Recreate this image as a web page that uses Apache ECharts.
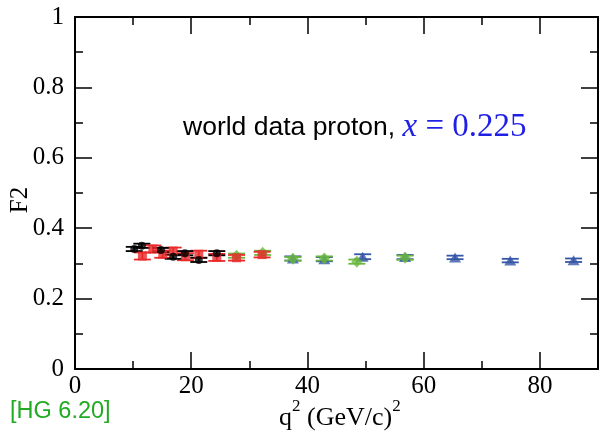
<!DOCTYPE html>
<html><head><meta charset="utf-8">
<script src="https://cdn.jsdelivr.net/npm/echarts@6/dist/echarts.min.js"></script>
<style>html,body{margin:0;padding:0;background:#fff}#c{width:601px;height:435px}</style>
</head><body><div id="c"></div>
<script>
// ---- data ----
const xTicks = [0, 20, 40, 60, 80];
const yTicks = [0, 0.2, 0.4, 0.6, 0.8, 1];

const blackQ2 = [10.2, 11.5, 14.8, 16.9, 18.9, 21.3, 24.4];
const blackF2 = [0.341, 0.350, 0.338, 0.319, 0.329, 0.310, 0.329];
const blackErr = [0.006, 0.006, 0.006, 0.006, 0.006, 0.006, 0.006];

const redQ2 = [11.6, 13.4, 15.1, 16.9, 19.0, 21.3, 24.4, 27.8, 32.2];
const redF2 = [0.321, 0.341, 0.326, 0.335, 0.319, 0.326, 0.317, 0.316, 0.325];
const redErr = [0.010, 0.010, 0.010, 0.010, 0.010, 0.010, 0.010, 0.008, 0.008];

const greenQ2 = [27.8, 32.3, 37.5, 42.9, 48.5, 56.8];
const greenF2 = [0.322, 0.330, 0.313, 0.314, 0.305, 0.316];
const greenErr = [0.006, 0.006, 0.005, 0.006, 0.006, 0.006];

const blueQ2 = [37.5, 42.9, 49.5, 56.8, 65.4, 74.9, 85.8];
const blueF2 = [0.314, 0.312, 0.319, 0.318, 0.317, 0.308, 0.309];
const blueErr = [0.006, 0.006, 0.007, 0.006, 0.005, 0.005, 0.005];

const colors = {black: '#000000', red: '#ea2a2a', green: '#6ab93e', blue: '#3656a6'};

function pts(q, f) { return q.map((v, i) => [v, f[i]]); }
function errPts(q, f, e) { return q.map((v, i) => [v, f[i], e[i]]); }

function errSeries(q, f, e, color) {
  return {
    type: 'custom', z: 2,
    data: errPts(q, f, e),
    renderItem: function (params, api) {
      const x = api.value(0), y = api.value(1), er = api.value(2);
      const lo = api.coord([x, y - er]);
      const hi = api.coord([x, y + er]);
      const hw = 8.5;
      const st = {stroke: color, lineWidth: 1.8};
      return {type: 'group', children: [
        {type: 'line', shape: {x1: lo[0], y1: lo[1], x2: hi[0], y2: hi[1]}, style: st},
        {type: 'line', shape: {x1: lo[0] - hw, y1: lo[1], x2: lo[0] + hw, y2: lo[1]}, style: st},
        {type: 'line', shape: {x1: hi[0] - hw, y1: hi[1], x2: hi[0] + hw, y2: hi[1]}, style: st}
      ]};
    }
  };
}
function markSeries(q, f, color, symbol, size) {
  return {type: 'scatter', z: 3, data: pts(q, f), symbol: symbol, symbolSize: size,
    itemStyle: {color: color}, silent: true};
}

const axisFont = {fontFamily: 'Liberation Serif', fontSize: 25, color: '#000'};
const chart = echarts.init(document.getElementById('c'), null, {renderer: 'canvas'});
const baseX = {
  type: 'value', min: 0, max: 90, interval: 20,
  axisLine: {show: true, onZero: false, lineStyle: {color: '#000', width: 2}},
  axisTick: {show: true, inside: true, length: 17, lineStyle: {color: '#000', width: 1.5}},
  minorTick: {show: true, splitNumber: 2, length: 8, lineStyle: {color: '#000', width: 1.5}},
  splitLine: {show: false}
};
const baseY = {
  type: 'value', min: 0, max: 1, interval: 0.2,
  axisLine: {show: true, onZero: false, lineStyle: {color: '#000', width: 2}},
  axisTick: {show: true, inside: true, length: 17, lineStyle: {color: '#000', width: 1.5}},
  minorTick: {show: true, splitNumber: 2, length: 8, lineStyle: {color: '#000', width: 1.5}},
  splitLine: {show: false}
};
chart.setOption({
  animation: false,
  grid: {left: 75, right: -1, top: 17, bottom: 66},
  xAxis: [
    Object.assign({}, baseX, {position: 'bottom',
      axisLabel: Object.assign({margin: 5, formatter: v => xTicks.includes(v) ? String(v) : ''}, axisFont)}),
    Object.assign({}, baseX, {position: 'top', axisLabel: {show: false}})
  ],
  yAxis: [
    Object.assign({}, baseY, {position: 'left',
      axisLabel: Object.assign({margin: 11, formatter: v => {
        const t = yTicks.find(t => Math.abs(t - v) < 1e-9);
        return t === undefined ? '' : (t === 0 || t === 1 ? String(t) : t.toFixed(1));
      }}, axisFont)}),
    Object.assign({}, baseY, {position: 'right', axisLabel: {show: false}})
  ],
  series: [
    errSeries(blueQ2, blueF2, blueErr, colors.blue),
    markSeries(blueQ2, blueF2, colors.blue, 'triangle', [12, 10]),
    errSeries(greenQ2, greenF2, greenErr, colors.green),
    markSeries(greenQ2, greenF2, colors.green, 'diamond', [11, 12]),
    errSeries(redQ2, redF2, redErr, colors.red),
    markSeries(redQ2, redF2, colors.red, 'rect', 9),
    errSeries(blackQ2, blackF2, blackErr, colors.black),
    markSeries(blackQ2, blackF2, colors.black, 'circle', 8)
  ],
  graphic: [
    {type: 'text', left: 183, top: 111, style: {
      rich: {
        a: {fontFamily: 'Liberation Sans', fontSize: 26.5, fill: '#000', verticalAlign: 'middle'},
        b: {fontFamily: 'Liberation Serif', fontSize: 33, fontStyle: 'italic', fill: '#1f1fe6', verticalAlign: 'middle'},
        c: {fontFamily: 'Liberation Serif', fontSize: 33, fill: '#1f1fe6', verticalAlign: 'middle'}
      },
      text: '{a|world data proton, }{b|x}{c| = 0.225}'
    }},
    {type: 'text', x: 20, y: 200, rotation: Math.PI / 2, style: {
      text: 'F2', fontFamily: 'Liberation Serif', fontSize: 25, fill: '#000',
      align: 'center', verticalAlign: 'middle'}},
    {type: 'text', left: 279, top: 398, style: {
      rich: {
        a: {fontFamily: 'Liberation Serif', fontSize: 26, fill: '#000', verticalAlign: 'bottom'},
        s: {fontFamily: 'Liberation Serif', fontSize: 17, fill: '#000', verticalAlign: 'top', padding: [0, 0, 16, 0]}
      },
      text: '{a|q}{s|2}{a| (GeV/c)}{s|2}'
    }},
    {type: 'text', left: 10, top: 400, style: {
      text: '[HG 6.20]', fontFamily: 'Liberation Sans', fontSize: 23.5, fill: '#22aa22'}}
  ]
});
</script></body></html>
